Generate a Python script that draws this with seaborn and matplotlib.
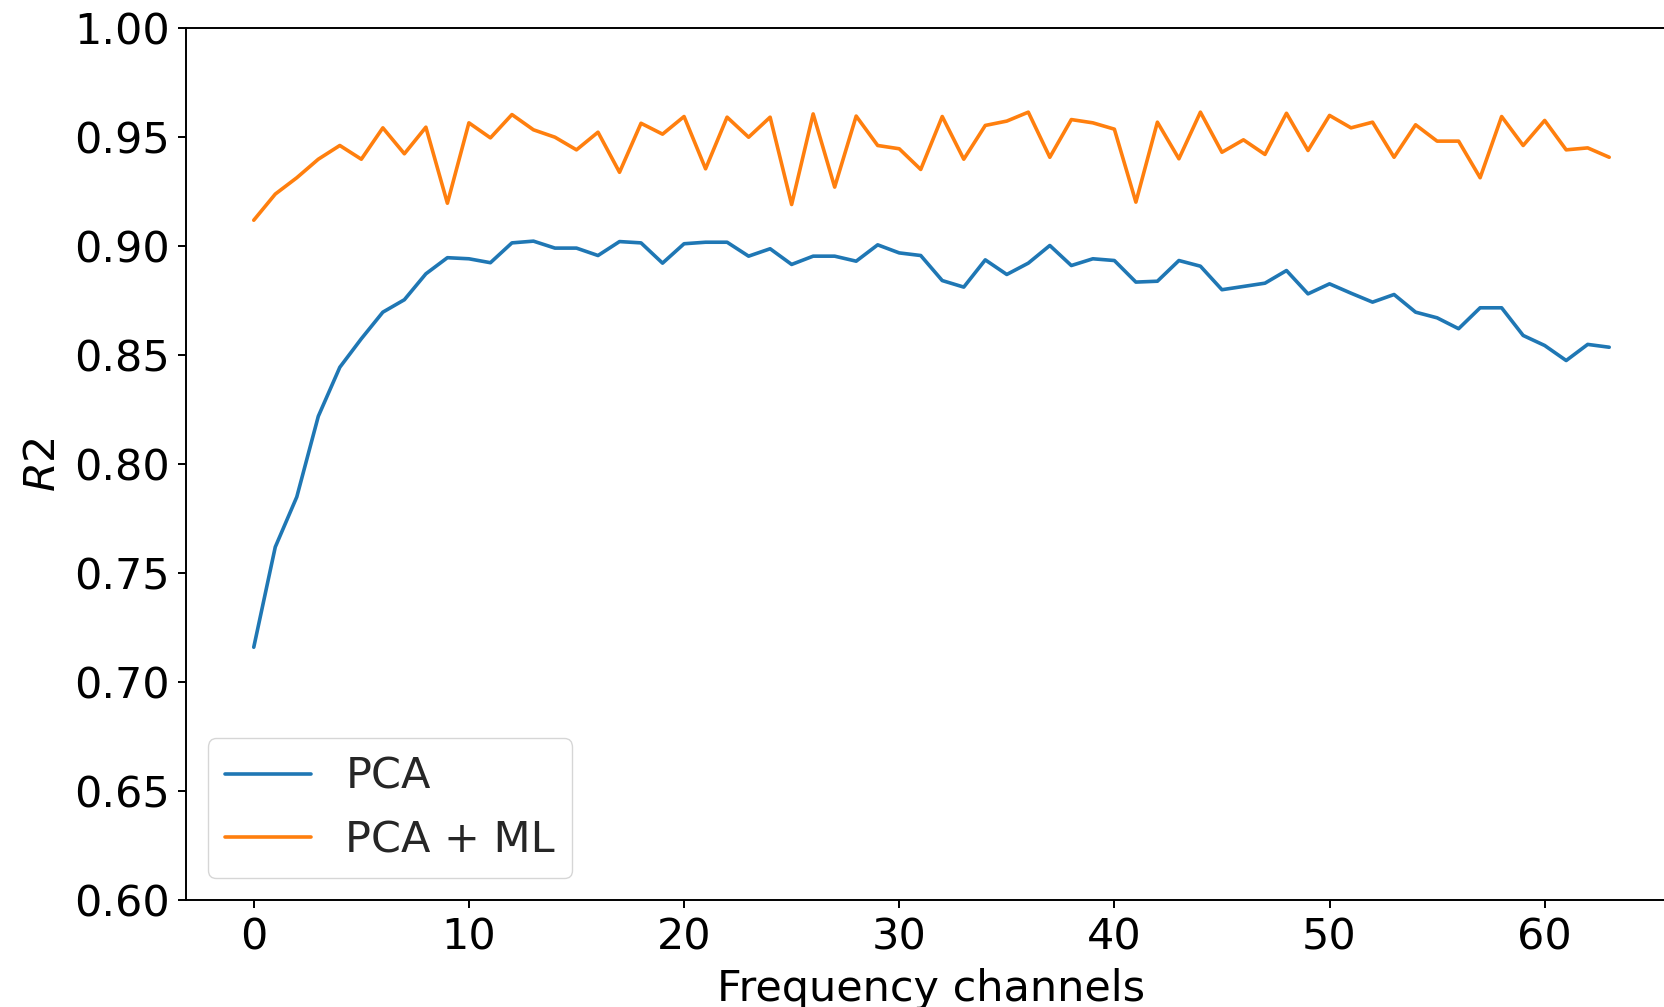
import numpy as np
import pandas as pd
import seaborn as sns
import matplotlib.pyplot as plt

# R2 per number of frequency channels
channels = np.arange(64)

r2_pca = [0.716, 0.762, 0.785, 0.822, 0.8445, 0.8576, 0.8698, 0.8755, 0.8874, 0.8948,
          0.8943, 0.8925, 0.9016, 0.9024, 0.8992, 0.8992, 0.8958, 0.9022, 0.9016, 0.8923,
          0.9012, 0.9019, 0.9019, 0.8955, 0.8989, 0.8917, 0.8955, 0.8955, 0.8932, 0.9007,
          0.897, 0.8958, 0.8843, 0.8813, 0.8938, 0.8871, 0.8923, 0.9004, 0.8912, 0.8943,
          0.8935, 0.8836, 0.884, 0.8935, 0.8909, 0.8801, 0.8816, 0.8831, 0.8889, 0.8782,
          0.8828, 0.8785, 0.8744, 0.8779, 0.8698, 0.8672, 0.8622, 0.8718, 0.8718, 0.8591,
          0.8545, 0.8476, 0.855, 0.8537]

r2_pca_ml = [0.912, 0.924, 0.9315, 0.940, 0.9463, 0.940, 0.9544, 0.9425, 0.9547, 0.9198,
             0.9567, 0.9498, 0.9605, 0.9535, 0.9501, 0.9443, 0.9524, 0.934, 0.9565, 0.9515,
             0.9596, 0.9356, 0.9593, 0.9501, 0.9593, 0.9192, 0.9608, 0.9272, 0.9598, 0.9463,
             0.9448, 0.9353, 0.9596, 0.940, 0.9555, 0.9575, 0.9616, 0.9409, 0.9582, 0.9567,
             0.9538, 0.9203, 0.957, 0.9402, 0.9616, 0.9432, 0.9489, 0.9422, 0.9611, 0.944,
             0.9601, 0.9544, 0.957, 0.9409, 0.9558, 0.9483, 0.9483, 0.9315, 0.9596, 0.9463,
             0.9578, 0.9443, 0.9452, 0.9409]

labels = ["PCA", "PCA + ML"]
colors = ["#1f77b4", "#ff7f0e"]

df = pd.DataFrame({"channel": channels, "PCA": r2_pca, "PCA + ML": r2_pca_ml})

sns.set_style("ticks")
plt.rcParams['font.family'] = ['DejaVu Sans']
plt.rcParams['font.size'] = 31
plt.rcParams['axes.linewidth'] = 1.4

fig = plt.figure(figsize=(16.65, 10.07), dpi=100)
ax = fig.add_axes([0.1117, 0.1063, 0.8955, 0.8654])

for lab, col in zip(labels, colors):
    sns.lineplot(data=df, x="channel", y=lab, color=col, linewidth=2.6, label=lab, ax=ax)

ax.set_ylim(0.6, 1.0)
ax.set_yticks(np.arange(0.6, 1.001, 0.05))
ax.set_xticks([0, 10, 20, 30, 40, 50, 60])
ax.tick_params(labelsize=31, length=5.8, width=1.4, pad=6, color='black', labelcolor='black')
for s in ax.spines.values():
    s.set_visible(True)
    s.set_color('black')
    s.set_linewidth(1.4)

ax.set_xlabel("Frequency channels", fontsize=31, labelpad=7, color='black')
ax.set_ylabel("$R2$", fontsize=31, labelpad=7, color='black')
ax.legend(loc='lower left', fontsize=31, frameon=True, framealpha=0.8, edgecolor='0.8', fancybox=True)

fig.savefig("out.png", dpi=100, facecolor='white')
